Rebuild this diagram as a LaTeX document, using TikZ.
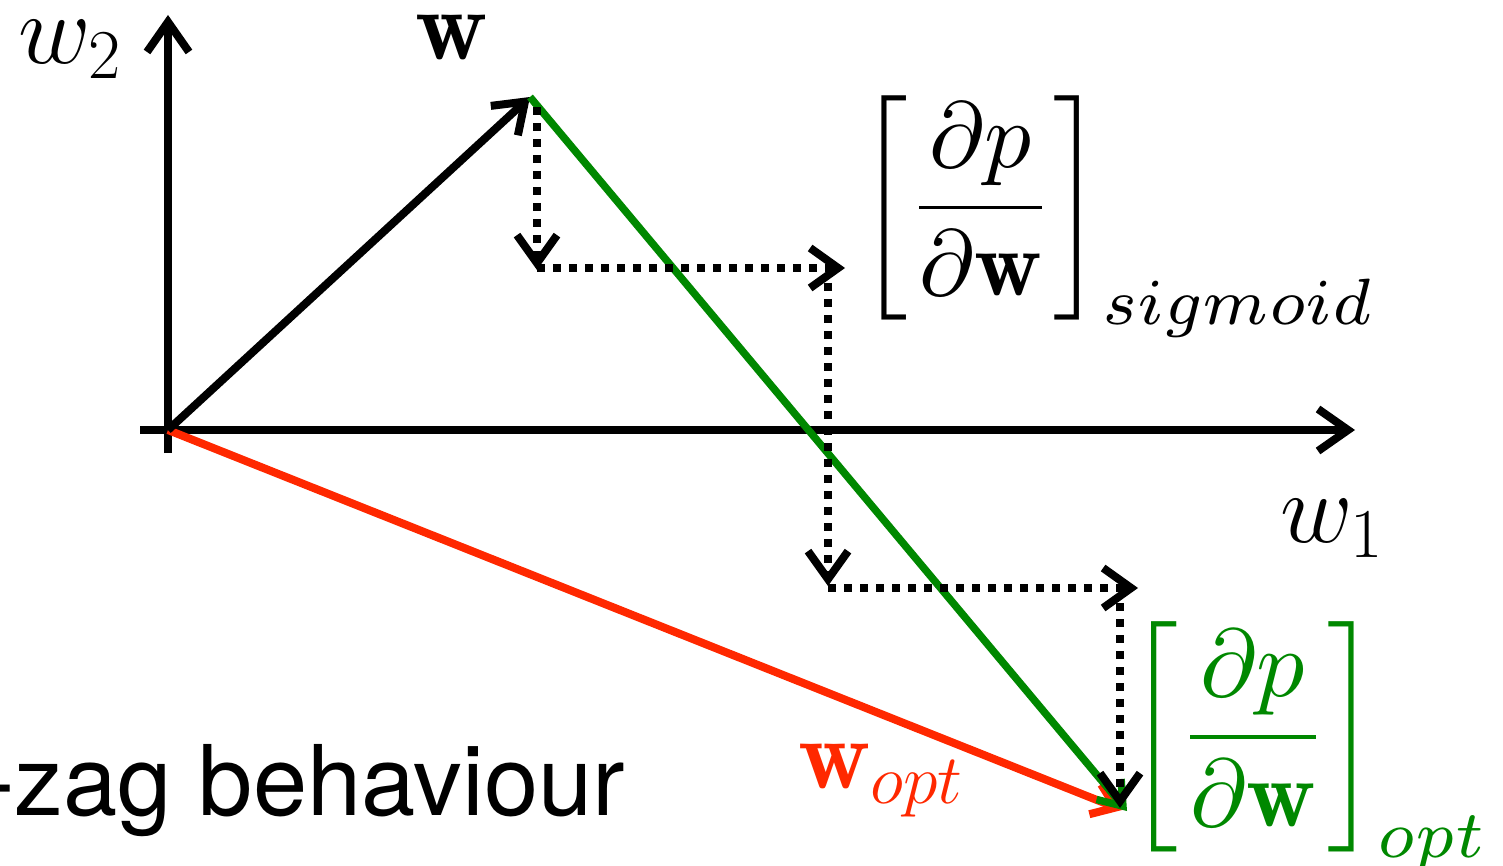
\documentclass[tikz,border=0pt]{standalone}
\usepackage{fix-cm}
\usepackage{amsmath}
\usepackage{fontspec}
\newfontfamily\helv{TeX Gyre Heros}
\usetikzlibrary{arrows.meta}
\definecolor{optgreen}{RGB}{0,136,0}
\definecolor{optred}{RGB}{255,40,0}
\newcommand\lblsize{\fontsize{100}{110}\selectfont}
\tikzset{
  axisline/.style={line width=8pt, -{Straight Barb[length=30pt,width=42pt]}},
  vecline/.style={line width=8pt, -{Straight Barb[length=28pt,width=40pt]}},
  gradline/.style={line width=7.5pt, optgreen, -{Straight Barb[length=22pt,width=32pt]}},
  optline/.style={line width=8pt, optred, -{Straight Barb[length=22pt,width=32pt]}},
  stepline/.style={line width=8pt, dash pattern=on 8pt off 8pt, -{Straight Barb[length=28pt,width=40pt]}},
  lbl/.style={anchor=base west, inner sep=0pt, font=\lblsize},
  fraclbl/.style={anchor=base west, inner sep=0pt, font=\normalsize, transform shape},
}
\begin{document}
\begin{tikzpicture}[x=1pt,y=-1pt]
\useasboundingbox (0,0) rectangle (1503,866);
% coordinates
\coordinate (O) at (168,430);
\coordinate (xs) at (140,430);
\coordinate (xe) at (1355,430);
\coordinate (ys) at (168,453);
\coordinate (ye) at (168,15);
\coordinate (W) at (530,97);
\coordinate (E) at (1127,811);
\coordinate (R) at (1122,810);
\coordinate (d1s) at (537,107);
\coordinate (d1e) at (537,270);
\coordinate (h1s) at (537,268);
\coordinate (h1e) at (845,268);
\coordinate (d2s) at (828,283);
\coordinate (d2e) at (828,586);
\coordinate (h2s) at (828,588);
\coordinate (h2e) at (1138,588);
\coordinate (d3s) at (1120,603);
\coordinate (d3e) at (1120,808);
% axes
\draw[axisline] (xs) -- (xe);
\draw[axisline] (ys) -- (ye);
% vectors
\draw[optline] (O) -- (R);
\draw[vecline] (O) -- (W);
\draw[gradline] (W) -- (E);
% zig-zag steps
\draw[stepline] (d1s) -- (d1e);
\draw[stepline] (h1s) -- (h1e);
\draw[stepline] (d2s) -- (d2e);
\draw[stepline] (h2s) -- (h2e);
\draw[stepline] (d3s) -- (d3e);
% labels
\node[lbl] (w2) at (18,64) {$w_2$};
\node[lbl] (w1) at (1280,542) {$w_1$};
\node[lbl] (wl) at (415,60) {$\mathbf{w}$};
\node[lbl, text=optred] (wopt) at (798,788) {$\mathbf{w}_{opt}$};
\node[fraclbl, scale=9.35] (gsig) at (857,231) {$\left[\dfrac{\partial p}{\partial\mathbf{w}}\right]_{sigmoid}$};
\node[fraclbl, scale=9.6, text=optgreen] (gopt) at (1126,761) {$\left[\dfrac{\partial p}{\partial\mathbf{w}}\right]_{opt}$};
\node[anchor=base west, inner sep=0pt, font=\helv\fontsize{97.5}{100}\selectfont] (zz) at (-18,815) {-zag behaviour};
\end{tikzpicture}
\end{document}
